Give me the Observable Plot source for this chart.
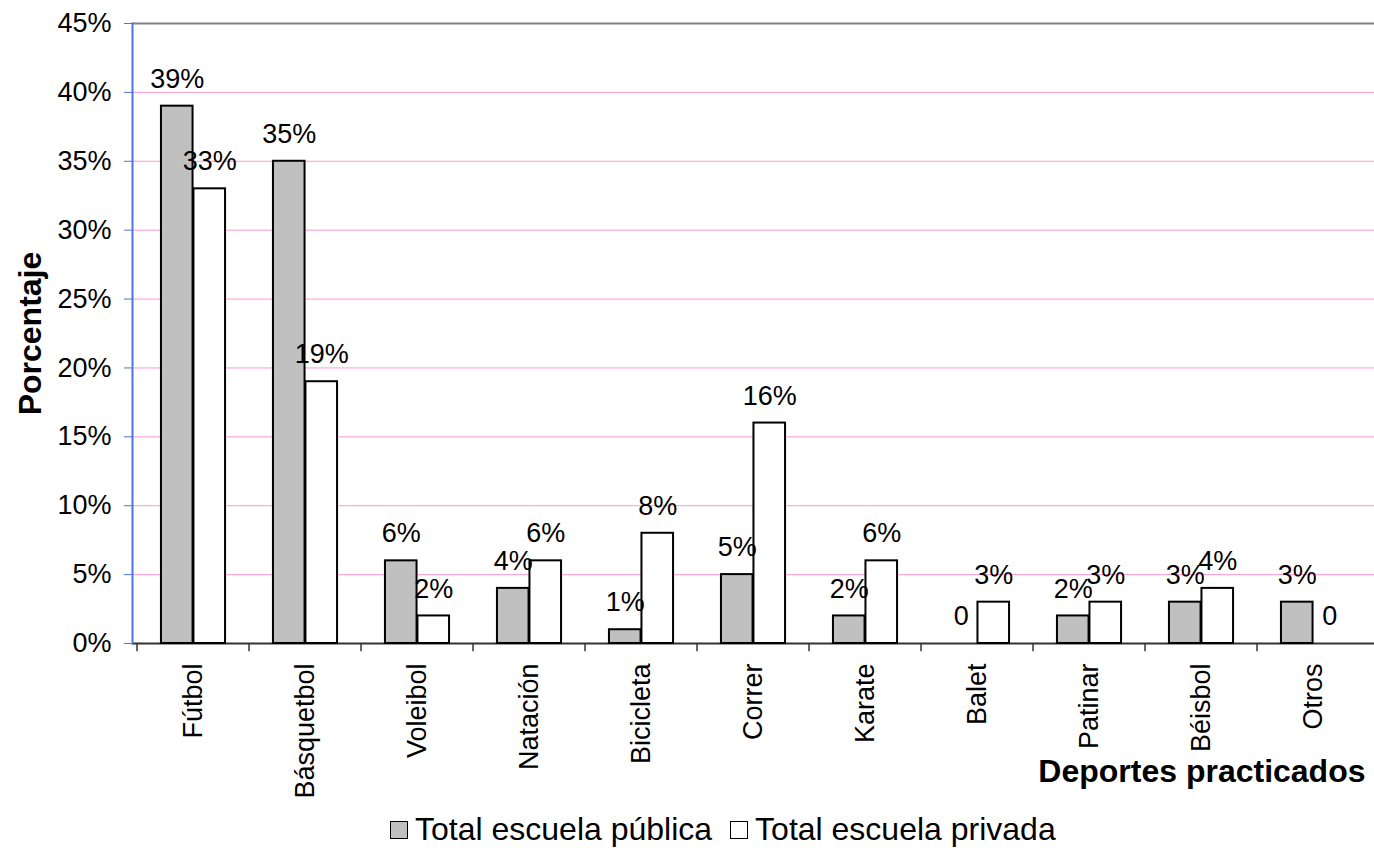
<!DOCTYPE html>
<html>
<head>
<meta charset="utf-8">
<script src="https://cdn.jsdelivr.net/npm/d3@7"></script>
<script src="https://cdn.jsdelivr.net/npm/@observablehq/plot@0.6"></script>
<style>
  html, body { margin: 0; padding: 0; background: white; }
  body { width: 1374px; height: 859px; overflow: hidden; font-family: "Liberation Sans", Arial, sans-serif; }
  #legend { height: 59px; display: flex; justify-content: flex-start; align-items: center; font-size: 32px; color: black; padding-left: 390px; box-sizing: border-box; }
  .item { display: flex; align-items: center; margin-right: 18px; }
  .sw { width: 16px; height: 16px; border: 1.5px solid black; margin-right: 7px; }
</style>
</head>
<body>
<div id="chart"></div>
<div id="legend"></div>
<script>
const categories = ["Fútbol","Básquetbol","Voleibol","Natación","Bicicleta","Correr","Karate","Balet","Patinar","Béisbol","Otros"];
const publica = [39,35,6,4,1,5,2,0,2,3,3];
const privada = [33,19,2,6,8,16,6,3,3,4,0];
const series = ["Total escuela pública","Total escuela privada"];
const seriesColors = ["#c0c0c0","#ffffff"];
const yTicks = [0,5,10,15,20,25,30,35,40,45];
const gridTicks = [5,10,15,20,25,30,35,40];
const yTitle = "Porcentaje";
const xTitle = "Deportes practicados";

const rowsPub = categories.map((c,i) => ({cat: c, serie: series[0], value: publica[i]}));
const rowsPriv = categories.map((c,i) => ({cat: c, serie: series[1], value: privada[i]}));

const W = 1374, H = 800, ML = 132, MR = 0, MT = 23, MB = 157;
const step = (W - ML - MR) / categories.length;
const barW = 32.5;
const outer = (step - 2 * barW) / 2;
const off = barW / 2;
const blue = "#4f74e0";
const fmt = v => v === 0 ? "0" : v + "%";
const FS = 27;

const chart = Plot.plot({
  width: W, height: H,
  marginLeft: ML, marginRight: MR, marginTop: MT, marginBottom: MB,
  style: {fontFamily: "'Liberation Sans', Arial, sans-serif", fontSize: FS + "px", color: "black", background: "white"},
  x: {domain: categories, padding: 0},
  y: {domain: [0, 45]},
  marks: [
    Plot.ruleY(gridTicks, {stroke: "#ff99cc", strokeWidth: 1}),
    Plot.ruleY([45], {stroke: "#808080", strokeWidth: 2}),
    Plot.ruleY([0], {stroke: "#333333", strokeWidth: 2}),
    Plot.ruleX(categories, {x: d => d, dx: -step / 2, y1: 0, y2: -0.6, stroke: "#333333", strokeWidth: 1.5}),
    Plot.barY(rowsPub.filter(d => d.value > 0), {x: "cat", y: "value", fill: seriesColors[0], stroke: "black", strokeWidth: 2, insetLeft: outer, insetRight: step - outer - barW}),
    Plot.barY(rowsPriv.filter(d => d.value > 0), {x: "cat", y: "value", fill: seriesColors[1], stroke: "black", strokeWidth: 2, insetLeft: outer + barW, insetRight: outer}),
    Plot.text(rowsPub, {x: "cat", y: "value", text: d => fmt(d.value), dx: -off, dy: -27, fontSize: FS, fill: "black"}),
    Plot.text(rowsPriv, {x: "cat", y: "value", text: d => fmt(d.value), dx: off, dy: -27, fontSize: FS, fill: "black"}),
    Plot.axisY({ticks: yTicks, tickFormat: d => d + "%", tickSize: 8, tickPadding: 13, stroke: blue, fill: "black", fontSize: FS, label: null}),
    Plot.frame({anchor: "left", stroke: blue, strokeWidth: 2}),
    Plot.axisX({tickSize: 0, tickRotate: -90, tickPadding: 20, fontSize: FS, label: null}),
    Plot.text([yTitle], {text: d => d, frameAnchor: "left", rotate: -90, dx: -102, fontWeight: "bold", fontSize: 32, textAnchor: "middle"}),
    Plot.text([xTitle], {text: d => d, frameAnchor: "bottom-right", textAnchor: "end", dx: -9, dy: 138, fontWeight: "bold", fontSize: 32})
  ]
});
document.getElementById("chart").appendChild(chart);

const legend = document.getElementById("legend");
series.forEach((s, i) => {
  const item = document.createElement("div");
  item.className = "item";
  const sw = document.createElement("div");
  sw.className = "sw";
  sw.style.background = seriesColors[i];
  const t = document.createElement("span");
  t.textContent = s;
  item.appendChild(sw);
  item.appendChild(t);
  legend.appendChild(item);
});
</script>
</body>
</html>
